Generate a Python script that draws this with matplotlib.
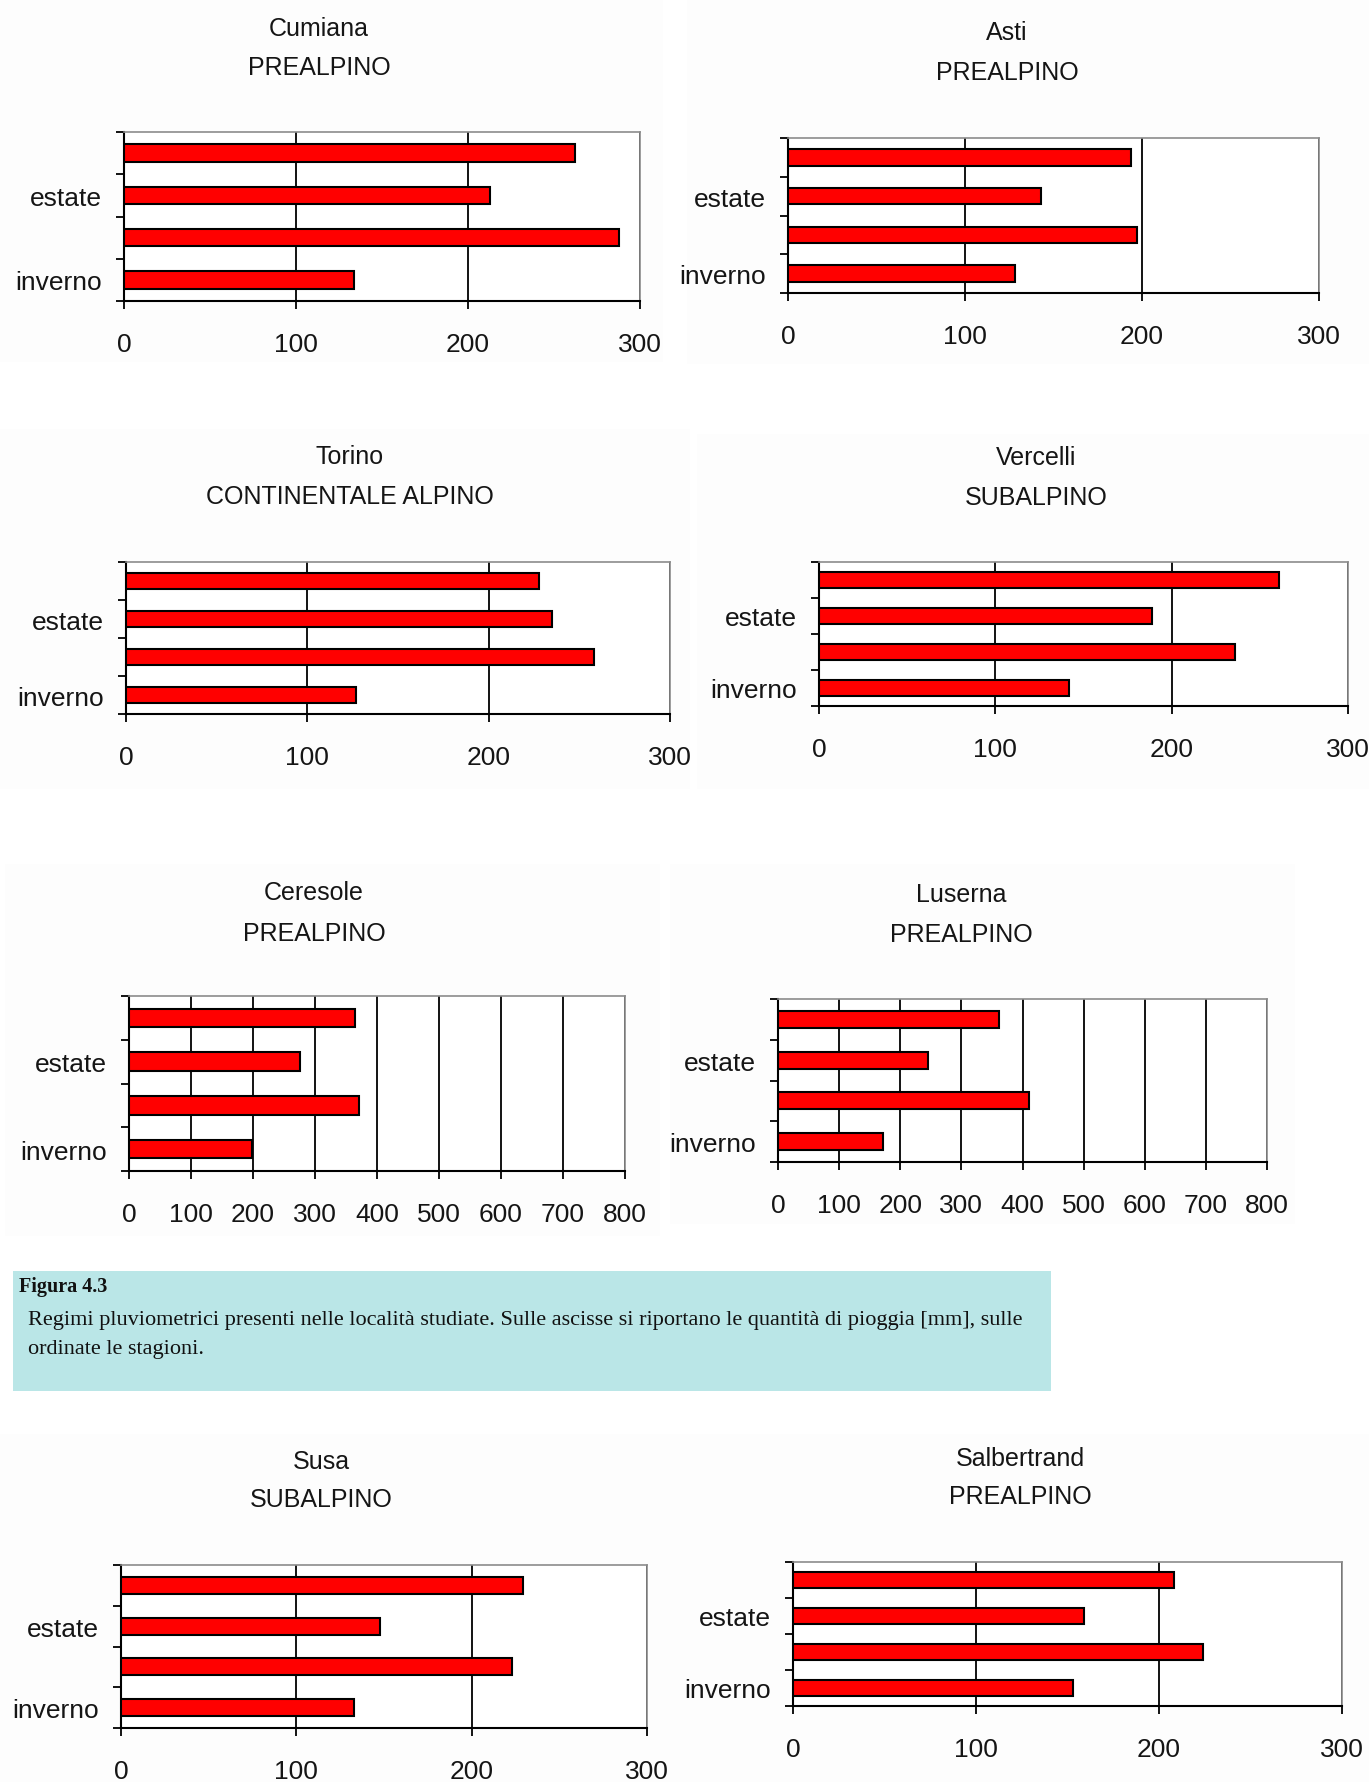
import matplotlib
matplotlib.use("Agg")
import matplotlib.pyplot as plt
from matplotlib import font_manager
from matplotlib.patches import Rectangle

W, H = 1369, 1783

seasons = ['inverno', 'primavera', 'estate', 'autunno']
shown_labels = ['inverno', '', 'estate', '']

stations = ['Cumiana', 'Asti', 'Torino', 'Vercelli',
            'Ceresole', 'Luserna', 'Susa', 'Salbertrand']
regimes = ['PREALPINO', 'PREALPINO', 'CONTINENTALE ALPINO', 'SUBALPINO',
           'PREALPINO', 'PREALPINO', 'SUBALPINO', 'PREALPINO']

# rain in mm, seasons from inverno to autunno
cumiana = [134, 288, 213, 262]
asti = [128, 197, 143, 194]
torino = [127, 258, 235, 228]
vercelli = [142, 236, 189, 261]
ceresole = [198, 371, 275, 364]
luserna = [172, 410, 246, 361]
susa = [133, 223, 148, 229]
salbertrand = [153, 224, 159, 208]
values = [cumiana, asti, torino, vercelli, ceresole, luserna, susa, salbertrand]
xmax = [300, 300, 300, 300, 800, 800, 300, 300]

caption_head = 'Figura 4.3'
caption_lines = ['Regimi pluviometrici presenti nelle località studiate. Sulle ascisse si riportano le quantità di pioggia [mm], sulle',
                 'ordinate le stagioni.']

# pixel layout: plot box (left, right, top, bottom), title centre x, title y's, panel bg
boxes = [(124, 640, 133, 302), (788, 1319, 139, 294),
         (126, 670, 563, 715), (819, 1348, 563, 707),
         (129, 625, 997, 1172), (778, 1267, 1000, 1163),
         (121, 647, 1566, 1729), (793, 1342, 1563, 1707)]
title_pos = [(319, 29, 68), (1007, 33, 73), (350, 457, 497), (1036, 458, 498),
             (314, 893, 934), (961, 895, 935), (321, 1462, 1500), (1020, 1459, 1497)]
panels = [(0, 663, 0, 363), (687, 1369, 0, 365), (0, 690, 430, 790), (697, 1369, 435, 790),
          (5, 660, 865, 1237), (670, 1295, 865, 1225), (0, 680, 1435, 1783), (680, 1369, 1435, 1783)]

names = {f.name for f in font_manager.fontManager.ttflist}
if 'Liberation Sans Narrow' in names:
    sans, tsize, lsize = 'Liberation Sans Narrow', 21.5, 23
else:
    sans, tsize, lsize = 'Liberation Sans', 18, 19
plt.rcParams['font.family'] = sans

fig = plt.figure(figsize=(W / 100, H / 100), dpi=100)
fig.patch.set_facecolor('white')

for (x0, x1, y0, y1) in panels:
    fig.patches.append(Rectangle((x0 / W, 1 - y1 / H), (x1 - x0) / W, (y1 - y0) / H,
                                 transform=fig.transFigure, facecolor='#fdfdfd',
                                 edgecolor='none', zorder=-5))

for i in range(8):
    l, r, t, b = boxes[i]
    ax = fig.add_axes([l / W, 1 - b / H, (r - l) / W, (b - t) / H])
    ax.set_zorder(5)
    ax.set_facecolor('white')
    pos = list(range(len(seasons)))
    ax.barh(pos, values[i], height=0.42, color='#ff0000', edgecolor='black',
            linewidth=1.5, zorder=3)
    ax.set_xlim(0, xmax[i])
    ax.set_ylim(-0.5, 3.5)
    ax.set_xticks(range(0, xmax[i] + 1, 100))
    ax.xaxis.grid(True, color='black', linewidth=1.3)
    ax.set_axisbelow(True)
    ax.set_yticks(pos)
    ax.set_yticklabels(shown_labels)
    ax.set_yticks([p - 0.5 for p in range(len(seasons) + 1)], minor=True)
    ax.tick_params(axis='y', which='major', length=0, pad=16, labelsize=lsize, labelcolor='#151515')
    ax.tick_params(axis='y', which='minor', length=6, width=1.3, direction='out')
    ax.tick_params(axis='x', length=6, width=1.3, direction='out', pad=16,
                   labelsize=lsize, labelcolor='#151515')
    for s in ['left', 'bottom']:
        ax.spines[s].set_color('black')
        ax.spines[s].set_linewidth(1.5)
    for s in ['top', 'right']:
        ax.spines[s].set_color('#8c8c8c')
        ax.spines[s].set_linewidth(1.2)

    cx, ty1, ty2 = title_pos[i]
    fig.text(cx / W, 1 - ty1 / H, stations[i], ha='center', va='center',
             fontsize=tsize, color='#151515')
    fig.text(cx / W, 1 - ty2 / H, regimes[i], ha='center', va='center',
             fontsize=tsize, color='#151515')

# caption box
fig.patches.append(Rectangle((13 / W, 1 - 1392 / H), (1051 - 13) / W, (1392 - 1272) / H,
                             transform=fig.transFigure, facecolor='#bae6e7',
                             edgecolor='none', zorder=-5))
fig.text(19 / W, 1 - 1287 / H, caption_head, ha='left', va='center',
         fontsize=14.5, fontweight='bold', family='Liberation Serif', color='#111111')
fig.text(28 / W, 1 - 1321 / H, caption_lines[0], ha='left', va='center',
         fontsize=16, family='Liberation Serif', color='#111111')
fig.text(28 / W, 1 - 1350 / H, caption_lines[1], ha='left', va='center',
         fontsize=16, family='Liberation Serif', color='#111111')

fig.savefig('out.png', dpi=100)
